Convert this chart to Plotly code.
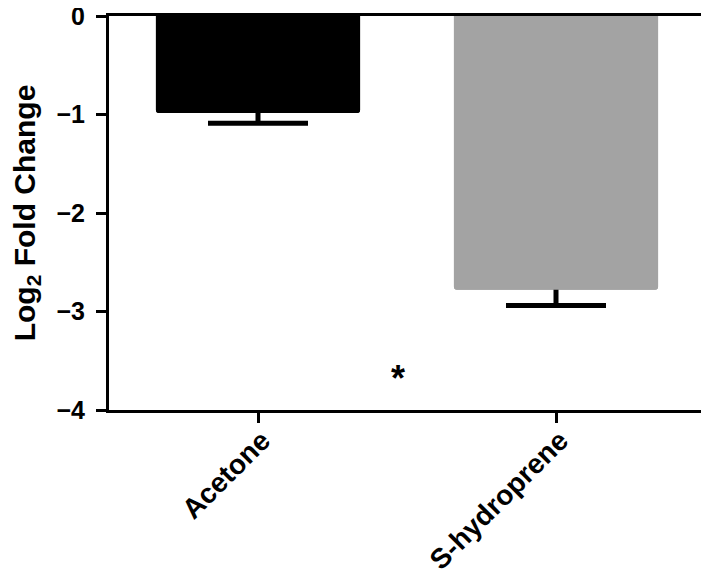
import plotly.graph_objects as go

# treatment groups and log2 fold change values
treatments = ["Acetone", "S-hydroprene"]
log2_fc = [-0.985, -2.78]
sem = [0.105, 0.16]
bar_colors = ["#000000", "#a3a3a3"]

font = "Liberation Sans, Arial, sans-serif"

fig = go.Figure()
# bars with symmetric error bars underneath; the upper half is hidden by
# the copy of the bars drawn on top, so only the downward whisker shows
fig.add_trace(go.Bar(
    x=treatments, y=log2_fc, width=0.685,
    marker=dict(color=bar_colors, line=dict(width=0), cornerradius=3),
    error_y=dict(type="data", array=sem, color="black", thickness=5, width=50),
    showlegend=False, hoverinfo="skip",
))
fig.add_trace(go.Bar(
    x=treatments, y=log2_fc, width=0.685,
    marker=dict(color=bar_colors, line=dict(width=0), cornerradius=3),
    showlegend=False,
))

# significance marker
fig.add_annotation(x=0.47, y=-3.68, text="<b>*</b>", showarrow=False,
                   font=dict(size=36, color="black", family=font))

# page body has an 8px margin, so margins are trimmed by that much
fig.update_layout(
    width=709, height=584,
    margin=dict(l=101, r=12, t=8, b=182),
    plot_bgcolor="white", paper_bgcolor="white",
    font=dict(family=font, color="black"),
    barmode="overlay",
)
fig.update_xaxes(
    range=[-0.5, 1.5], automargin=False,
    showline=True, linecolor="black", linewidth=3, mirror=True,
    ticks="outside", ticklen=10, tickwidth=3, tickcolor="black",
    tickangle=-45, ticklabelshift=4, ticklabelstandoff=-10,
    ticklabeloverflow="allow",
    tickfont=dict(size=28, family=font, weight="bold"),
    showgrid=False,
)
fig.update_yaxes(
    range=[-4, 0], automargin=False,
    tickvals=[0, -1, -2, -3, -4],
    ticktext=["0", "\u22121", "\u22122", "\u22123", "\u22124"],
    showline=True, linecolor="black", linewidth=3,
    ticks="outside", ticklen=10, tickwidth=3, tickcolor="black",
    ticklabelstandoff=6, ticklabeloverflow="allow",
    tickfont=dict(size=25, family=font, weight="bold"),
    showgrid=False, zeroline=False,
    title=dict(text="<b>Log<sub>2</sub> Fold Change</b>",
               font=dict(size=30, family=font), standoff=28),
)

fig.write_html("out.html")
